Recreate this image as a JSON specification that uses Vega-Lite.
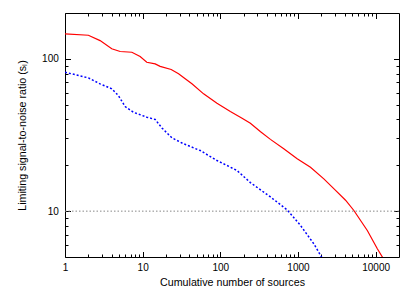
{
  "$schema": "https://vega.github.io/schema/vega-lite/v6.json",
  "width": 334,
  "height": 244,
  "autosize": "none",
  "padding": {"left": 65, "top": 13, "right": 16, "bottom": 34},
  "config": {
    "font": "Liberation Sans",
    "view": {"stroke": "#000000", "strokeWidth": 1},
    "axis": {
      "grid": false,
      "domain": false,
      "tickColor": "#000000",
      "tickWidth": 1,
      "labelColor": "#000000",
      "labelFontSize": 10,
      "labelFlush": false,
      "labelOverlap": false,
      "titleColor": "#000000",
      "titleFontSize": 10.7,
      "titleFontWeight": "normal"
    }
  },
  "datasets": {
    "red": [
      {"n": 1, "s": 146}, {"n": 2, "s": 142.9}, {"n": 2.83, "s": 131.8}, {"n": 4.0, "s": 116.4},
      {"n": 5.13, "s": 111.7}, {"n": 7.26, "s": 110.5}, {"n": 9.28, "s": 103.5}, {"n": 11.3, "s": 95.0},
      {"n": 14.5, "s": 92.7}, {"n": 16.8, "s": 89.3}, {"n": 23.3, "s": 85.1}, {"n": 29.0, "s": 79.7},
      {"n": 35.3, "s": 74.0}, {"n": 43.1, "s": 68.6}, {"n": 60.9, "s": 58.9}, {"n": 90.6, "s": 51.1},
      {"n": 134.6, "s": 45.1}, {"n": 190.6, "s": 40.8}, {"n": 243.9, "s": 37.8}, {"n": 330, "s": 33.2},
      {"n": 442, "s": 29.6}, {"n": 656, "s": 25.7}, {"n": 977, "s": 22.1}, {"n": 1449, "s": 19.4},
      {"n": 2153, "s": 16.3}, {"n": 3050, "s": 13.7}, {"n": 4100, "s": 11.8}, {"n": 5248, "s": 10.1},
      {"n": 7816, "s": 7.47}, {"n": 10520, "s": 5.66}, {"n": 13460, "s": 4.61}
    ],
    "blue": [
      {"n": 1, "s": 81.7}, {"n": 2, "s": 75.0}, {"n": 2.83, "s": 68.5}, {"n": 4.0, "s": 63.6},
      {"n": 4.87, "s": 57.4}, {"n": 5.95, "s": 48.6}, {"n": 7.61, "s": 44.6}, {"n": 11.3, "s": 41.4},
      {"n": 14.5, "s": 40.0}, {"n": 17.7, "s": 35.2}, {"n": 23.8, "s": 30.3}, {"n": 33.6, "s": 27.7},
      {"n": 55.2, "s": 25.0}, {"n": 90.6, "s": 21.5}, {"n": 164, "s": 18.5}, {"n": 244, "s": 15.4},
      {"n": 442, "s": 12.4}, {"n": 726, "s": 10.2}, {"n": 1077, "s": 8.06}, {"n": 1600, "s": 6.11},
      {"n": 2133, "s": 4.75}
    ],
    "thr": [{"s": 10}]
  },
  "layer": [
    {
      "data": {"name": "red"},
      "mark": {"type": "line", "color": "#ff0000", "strokeWidth": 1.2, "clip": true},
      "encoding": {
        "x": {
          "field": "n", "type": "quantitative",
          "scale": {"type": "log", "domain": [1, 20000], "nice": false},
          "axis": {
            "orient": "bottom",
            "values": [1,2,3,4,5,6,7,8,9,10,20,30,40,50,60,70,80,90,100,200,300,400,500,600,700,800,900,1000,2000,3000,4000,5000,6000,7000,8000,9000,10000],
            "tickSize": -3,
            "labelPadding": 8.5,
            "labelExpr": "(datum.value == 1 || datum.value == 10 || datum.value == 100 || datum.value == 1000 || datum.value == 10000) ? format(datum.value, 'd') : ''",
            "title": "Cumulative number of sources",
            "titlePadding": 5,
            "encoding": {"ticks": {"y2": {"condition": {"test": "datum.value == 1 || datum.value == 10 || datum.value == 100 || datum.value == 1000 || datum.value == 10000", "value": -5.5}, "value": -3}}}
          }
        },
        "y": {
          "field": "s", "type": "quantitative",
          "scale": {"type": "log", "domain": [5, 200], "nice": false},
          "axis": {
            "orient": "left",
            "values": [6,7,8,9,10,20,30,40,50,60,70,80,90,100],
            "tickSize": -3,
            "labelPadding": 9.7,
            "labelExpr": "(datum.value == 10 || datum.value == 100) ? format(datum.value, 'd') : ''",
            "title": "Limiting signal-to-noise ratio (sₗ)",
            "titlePadding": 14,
            "encoding": {"ticks": {"x2": {"condition": {"test": "datum.value == 10 || datum.value == 100", "value": 5.5}, "value": 3}}}
          }
        }
      }
    },
    {
      "data": {"name": "blue"},
      "mark": {"type": "line", "color": "#0000ff", "strokeWidth": 1.5, "strokeDash": [2, 2], "clip": true},
      "encoding": {
        "x": {
          "field": "n", "type": "quantitative",
          "scale": {"type": "log", "domain": [1, 20000], "nice": false},
          "axis": {
            "orient": "top",
            "values": [1,2,3,4,5,6,7,8,9,10,20,30,40,50,60,70,80,90,100,200,300,400,500,600,700,800,900,1000,2000,3000,4000,5000,6000,7000,8000,9000,10000],
            "tickSize": -3,
            "labels": false,
            "title": null,
            "encoding": {"ticks": {"y2": {"condition": {"test": "datum.value == 1 || datum.value == 10 || datum.value == 100 || datum.value == 1000 || datum.value == 10000", "value": 5.5}, "value": 3}}}
          }
        },
        "y": {
          "field": "s", "type": "quantitative",
          "scale": {"type": "log", "domain": [5, 200], "nice": false},
          "axis": {
            "orient": "right",
            "values": [6,7,8,9,10,20,30,40,50,60,70,80,90,100],
            "tickSize": -3,
            "labels": false,
            "title": null,
            "encoding": {"ticks": {"x2": {"condition": {"test": "datum.value == 10 || datum.value == 100", "value": -5.5}, "value": -3}}}
          }
        }
      }
    },
    {
      "data": {"name": "thr"},
      "mark": {"type": "rule", "color": "#888888", "strokeWidth": 1, "strokeDash": [1.5, 2]},
      "encoding": {
        "y": {"field": "s", "type": "quantitative", "axis": null}
      }
    }
  ],
  "resolve": {"axis": {"x": "independent", "y": "independent"}}
}
